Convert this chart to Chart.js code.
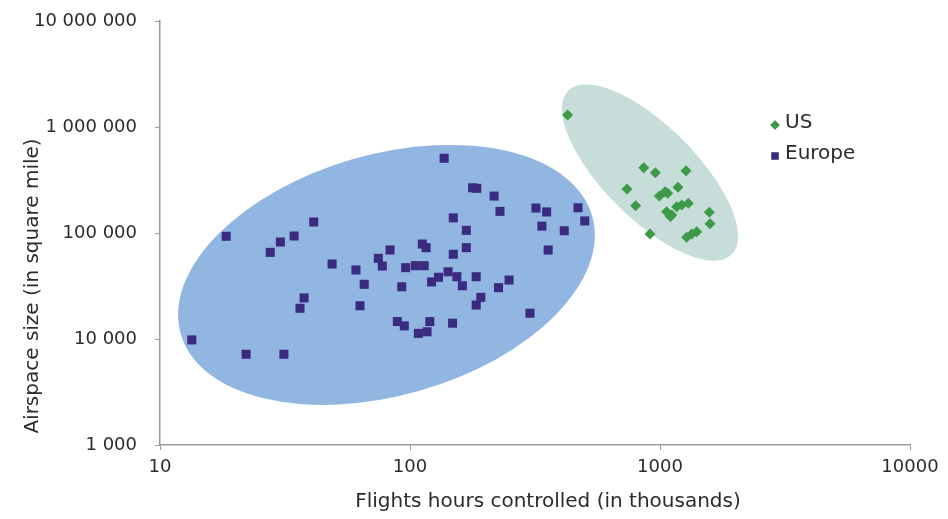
<!DOCTYPE html>
<html>
<head>
<meta charset="utf-8">
<script src="https://cdn.jsdelivr.net/npm/chart.js@4.4.1/dist/chart.umd.min.js"></script>
<style>
html, body { margin: 0; padding: 0; background: #fff; }
</style>
</head>
<body>
<canvas id="myChart" width="948" height="519"></canvas>
<script>
var xTicks = [10, 100, 1000, 10000]
var xTickLabels = ['10', '100', '1000', '10000']
var yTicks = [1000, 10000, 100000, 1000000, 10000000]
var yTickLabels = ['1 000', '10 000', '100 000', '1 000 000', '10 000 000']

// flight hours controlled (thousands) / airspace size (square miles)
var usHours = [427, 861, 958, 1271, 738, 1180, 994, 1047, 1074, 799, 1063,
    1114, 1166, 1222, 1298, 1100, 1575, 1585, 912, 1279, 1340, 1402]
var usAirspace = [1298000, 413000, 370000, 387000, 260000, 270000, 223000, 245000, 237000, 181000, 159000,
    148000, 177000, 184000, 191000, 143000, 157000, 122000, 98000, 91000, 98000, 103000]

var europeHours = [18.4, 41.2, 34.4, 30.3, 27.6, 48.8, 37.7, 36.3, 13.4, 22.1, 31.3,
    137, 178, 185, 217, 229, 319, 352, 470, 500, 149, 337, 414, 168, 357, 83.2,
    112, 116, 168, 149, 74.7, 77.5, 60.8, 96.1, 105, 114, 65.6, 92.7, 122, 130,
    142, 154, 162, 184, 226, 249, 192, 184, 63.1, 89, 94.9, 108, 117, 120, 148, 302]
var europeAirspace = [93100, 127000, 93700, 82200, 65700, 51000, 24400, 19500, 9800, 7180, 7180,
    507000, 267000, 264000, 223000, 160000, 172000, 158000, 173000, 130000, 139000, 116000, 105000, 106000, 69100, 69100,
    78700, 72700, 72700, 63000, 57700, 48800, 44800, 47100, 49200, 49200, 32800, 31100, 34500, 38200,
    43100, 38700, 31800, 38700, 30500, 36000, 24700, 20900, 20600, 14600, 13300, 11300, 11700, 14600, 14100, 17500]

var xTitle = 'Flights hours controlled (in thousands)'
var yTitle = 'Airspace size (in square mile)'

// cluster outlines: centre in data units, half axes in decades of the x axis
var clusters = [
    { cx: 80.5, cy: 40200, a: 0.856, b: 0.482, angle: -16, color: '#92b6e2' },
    { cx: 912, cy: 372000, a: 0.463, b: 0.185, angle: 45, color: '#c6ddd9' },
]

var textColor = '#2b2b2b'
var axisColor = '#9a9a9a'
var fontFamily = "'DejaVu Sans', sans-serif"

var pairs = (xs, ys) => xs.map((v, i) => ({ x: v, y: ys[i] }))

var decorPlugin = {
    id: 'decor',
    beforeDatasetsDraw(chart) {
        var ctx = chart.ctx
        var xs = chart.scales.x
        var ys = chart.scales.y
        var decade = xs.getPixelForValue(100) - xs.getPixelForValue(10)
        ctx.save()
        clusters.forEach((c) => {
            ctx.beginPath()
            ctx.ellipse(xs.getPixelForValue(c.cx), ys.getPixelForValue(c.cy),
                c.a * decade, c.b * decade, c.angle * Math.PI / 180, 0, Math.PI * 2)
            ctx.fillStyle = c.color
            ctx.fill()
        })
        ctx.restore()
    },
    afterDraw(chart) {
        var ctx = chart.ctx
        var area = chart.chartArea
        ctx.save()
        ctx.fillStyle = textColor
        ctx.font = '20px ' + fontFamily
        ctx.textAlign = 'center'
        ctx.textBaseline = 'middle'
        ctx.fillText(xTitle, area.left + (area.right - area.left) / 2 + 13, 502)

        ctx.translate(33, area.top + (area.bottom - area.top) / 2 + 53)
        ctx.rotate(-Math.PI / 2)
        ctx.fillText(yTitle, 0, 0)
        ctx.restore()

        // legend
        ctx.save()
        ctx.font = '20px ' + fontFamily
        ctx.textAlign = 'left'
        ctx.textBaseline = 'middle'
        chart.data.datasets.forEach((ds, i) => {
            var lx = area.right - 135
            var ly = area.top + 104 + i * 31
            Chart.helpers.drawPoint(ctx, {
                pointStyle: ds.pointStyle,
                radius: ds.legendRadius,
                rotation: 0,
                borderWidth: 0,
            }, lx, ly)
            ctx.fillStyle = ds.backgroundColor
            ctx.fill()
            ctx.fillStyle = textColor
            ctx.fillText(ds.label, lx + 10, ly - 2)
        })
        ctx.restore()
    },
}

var ctx = document.getElementById('myChart').getContext('2d')

var chart = new Chart(ctx, {
    type: 'scatter',
    data: {
        datasets: [{
            label: 'US',
            data: pairs(usHours, usAirspace),
            pointStyle: 'rectRot',
            pointRadius: 5.5,
            legendRadius: 4.5,
            backgroundColor: '#3d9a48',
            borderColor: '#3d9a48',
            borderWidth: 0,
        }, {
            label: 'Europe',
            data: pairs(europeHours, europeAirspace),
            pointStyle: 'rect',
            pointRadius: 6.4,
            legendRadius: 5,
            backgroundColor: '#3b2b80',
            borderColor: '#3b2b80',
            borderWidth: 0,
        }],
    },
    options: {
        responsive: false,
        animation: false,
        layout: { padding: { top: 21, right: 38, left: 0, bottom: 0 } },
        plugins: {
            legend: { display: false },
            tooltip: { enabled: false },
        },
        scales: {
            x: {
                type: 'logarithmic',
                min: 10,
                max: 10000,
                afterBuildTicks: (s) => { s.ticks = xTicks.map((v) => ({ value: v })) },
                afterFit: (s) => { s.height = 74; s.paddingLeft = 0; s.paddingRight = 0 },
                grid: { drawOnChartArea: false, tickLength: 5, color: axisColor },
                border: { color: axisColor, width: 1.5 },
                ticks: {
                    color: textColor,
                    padding: 7,
                    maxRotation: 0,
                    font: { family: fontFamily, size: 18 },
                    callback: (v) => xTickLabels[xTicks.indexOf(v)],
                },
            },
            y: {
                type: 'logarithmic',
                min: 1000,
                max: 10000000,
                afterBuildTicks: (s) => { s.ticks = yTicks.map((v) => ({ value: v })) },
                afterFit: (s) => { s.width = 160; s.paddingTop = 0; s.paddingBottom = 0 },
                grid: { drawOnChartArea: false, tickLength: 5, color: axisColor },
                border: { color: axisColor, width: 1.5 },
                ticks: {
                    color: textColor,
                    padding: 18,
                    font: { family: fontFamily, size: 18 },
                    callback: (v) => yTickLabels[yTicks.indexOf(v)],
                },
            },
        },
    },
    plugins: [decorPlugin],
})
</script>
</body>
</html>
